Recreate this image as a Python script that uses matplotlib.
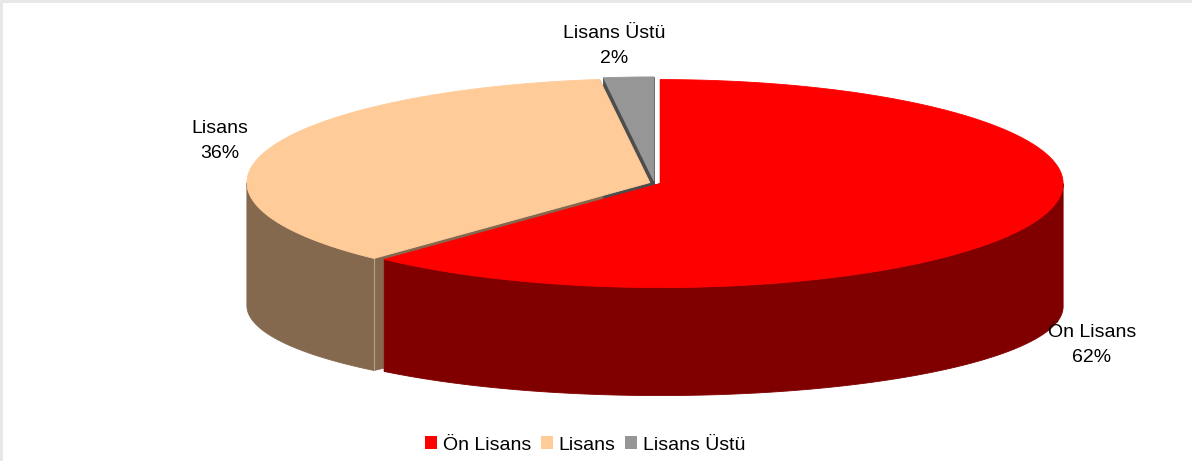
import numpy as np
import matplotlib.pyplot as plt
from matplotlib.patches import Polygon, Rectangle, Patch

plt.rcParams['font.family'] = ['Liberation Sans', 'DejaVu Sans']

# data
categories = ['Ön Lisans', 'Lisans', 'Lisans Üstü']
shares = [62, 36, 2]
top_colors = ['#FF0000', '#FFCC99', '#969696']
side_colors = ['#800000', '#85694F', '#4D4D4D']
explode = [0.015, 0.012, 0.02]

# label placement (pixel coords, baseline of first line)
label_pos = [(1092, 337), (220, 133), (614, 38)]

W, H = 1192, 461
fig = plt.figure(figsize=(W / 100, H / 100), dpi=100, facecolor='#E6E7E8')
fig.patches.append(Rectangle((3 / W, 0), 1, (H - 3) / H, transform=fig.transFigure,
                             facecolor='white', edgecolor='none', zorder=-5))
ax = fig.add_axes([0, 0, 1, 1])
ax.set_xlim(0, W)
ax.set_ylim(H, 0)
ax.axis('off')
ax.patch.set_alpha(0)

# 3D pie geometry in pixels (top ellipse / bottom ellipse)
cx, cy, rx, ry = 654.5, 183, 403, 104
cyb, ryb = 306, 89


def top_pt(t, off):
    r = np.radians(t)
    return cx + off[0] + rx * np.cos(r), cy + off[1] - ry * np.sin(r)


def bot_pt(t, off):
    r = np.radians(t)
    return cx + off[0] + rx * np.cos(r), cyb + off[1] - ryb * np.sin(r)


def poly(pts, color, z, lw=0.6):
    ax.add_patch(Polygon(pts, closed=True, facecolor=color, edgecolor=color,
                         linewidth=lw, zorder=z))


slices = []
start = 90.0
for share, e in zip(shares, explode):
    t1 = start
    t2 = start - share * 3.6
    mid = np.radians((t1 + t2) / 2)
    off = (e * rx * np.cos(mid), -e * ry * np.sin(mid))
    slices.append((t2, t1, off))
    start = t2

for (t2, t1, off), top_c, side_c in zip(slices, top_colors, side_colors):
    # radial cut faces
    for t in (t1, t2):
        c_top = (cx + off[0], cy + off[1])
        c_bot = (cx + off[0], cyb + off[1])
        poly([c_top, top_pt(t, off), bot_pt(t, off), c_bot], side_c, 1)

    # outer wall on the front half
    for k in (-1, 0, 1):
        lo = max(t2, 180 + 360 * k)
        hi = min(t1, 360 + 360 * k)
        if hi > lo:
            ts = np.linspace(lo, hi, 120)
            pts = [top_pt(t, off) for t in ts] + [bot_pt(t, off) for t in ts[::-1]]
            poly(pts, side_c, 2)
            if hi < 360 + 360 * k and hi > 180 + 360 * k:
                xa, ya = top_pt(hi, off)
                xb, yb = bot_pt(hi, off)
                ax.plot([xa, xb], [ya, yb], color='#B8A089', lw=0.8, zorder=2.5)

    # top face
    ts = np.linspace(t2, t1, 200)
    pts = [(cx + off[0], cy + off[1])] + [top_pt(t, off) for t in ts]
    poly(pts, top_c, 3)

# labels
for (x, y), name, share in zip(label_pos, categories, shares):
    ax.text(x, y, name, ha='center', va='baseline', fontsize=14, color='black', zorder=5)
    ax.text(x, y + 25, f'{share}%', ha='center', va='baseline', fontsize=14,
            color='black', zorder=5)

handles = [Patch(facecolor=c, edgecolor='none') for c in top_colors]
fig.legend(handles, categories, loc='center', bbox_to_anchor=(585 / W, (H - 445) / H),
           ncol=3, frameon=False, fontsize=14, handlelength=0.62, handleheight=0.62,
           handletextpad=0.3, columnspacing=0.5, borderpad=0)

fig.savefig('out.png', dpi=100, facecolor=fig.get_facecolor())
